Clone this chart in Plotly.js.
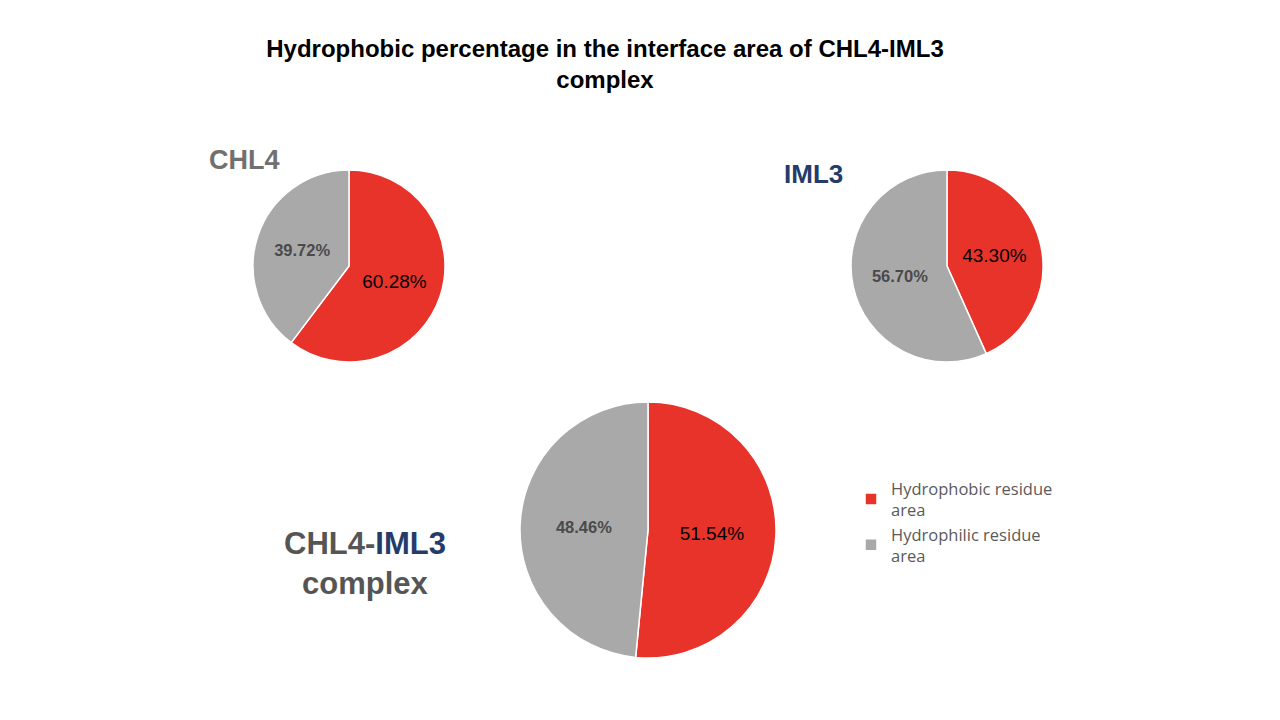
<!DOCTYPE html>
<html>
<head>
<meta charset="utf-8">
<script src="https://cdn.plot.ly/plotly-3.0.1.min.js"></script>
<style>
  html, body { margin: 0; padding: 0; background: #ffffff; }
  #chart { width: 1280px; height: 720px; }
</style>
</head>
<body>
<div id="chart"></div>
<script>
// residue area categories
const categories = ['Hydrophobic residue<br>area', 'Hydrophilic residue<br>area'];
// percentages per structure
const chl4Values = [60.28, 39.72];
const iml3Values = [43.30, 56.70];
const complexValues = [51.54, 48.46];

const sliceColors = ['#E8332A', '#AAA9AA'];
const labelColors = ['#000000', '#4a4a4a'];

function pieTrace(values, domX, domY) {
    return {
        type: 'pie',
        labels: categories,
        values: values,
        sort: false,
        direction: 'clockwise',
        rotation: 0,
        domain: { x: domX, y: domY },
        marker: { colors: sliceColors, line: { color: '#ffffff', width: 1.5 } },
        // red slice plain, grey slice bold
        texttemplate: ['%{value:.2f}%', '<b>%{value:.2f}%</b>'],
        textposition: 'inside',
        insidetextorientation: 'horizontal',
        textfont: {
            family: 'Liberation Sans, Arial, sans-serif',
            color: labelColors,
            size: [19, 16.5],
        },
        hoverinfo: 'label+percent',
        showlegend: true,
    };
}

const data = [
    pieTrace(chl4Values, [253 / 1280, 445 / 1280], [1 - 362 / 720, 1 - 170 / 720]),
    pieTrace(iml3Values, [851 / 1280, 1043 / 1280], [1 - 362 / 720, 1 - 170 / 720]),
    pieTrace(complexValues, [520 / 1280, 776 / 1280], [1 - 658 / 720, 1 - 402 / 720]),
];

const layout = {
    width: 1280,
    height: 720,
    margin: { l: 0, r: 0, t: 0, b: 0 },
    paper_bgcolor: '#ffffff',
    font: { family: 'Liberation Sans, Arial, sans-serif' },
    title: {
        text: '<b>Hydrophobic percentage in the interface area of CHL4-IML3<br>complex</b>',
        x: 605 / 1280,
        xanchor: 'center',
        y: 1 - 57 / 720,
        yanchor: 'top',
        font: { size: 24, color: '#000000', family: 'Liberation Sans, Arial, sans-serif' },
    },
    legend: {
        x: 851 / 1280,
        y: 1 - 471 / 720,
        xanchor: 'left',
        yanchor: 'top',
        font: { size: 16.5, color: '#5a5a5a', family: 'Open Sans, Liberation Sans, sans-serif' },
        itemwidth: 30,
        tracegroupgap: 8,
        bgcolor: 'rgba(0,0,0,0)',
    },
    annotations: [{
        text: '<b>CHL4</b>',
        x: 207 / 1280, y: 1 - 160 / 720,
        xref: 'paper', yref: 'paper',
        xanchor: 'left', yanchor: 'middle',
        showarrow: false,
        font: { size: 27, color: '#707070' },
    }, {
        text: '<b>IML3</b>',
        x: 782 / 1280, y: 1 - 174 / 720,
        xref: 'paper', yref: 'paper',
        xanchor: 'left', yanchor: 'middle',
        showarrow: false,
        font: { size: 26, color: '#253C6B' },
    }, {
        text: '<b>CHL4-<span style="color:#253C6B">IML3</span><br>complex</b>',
        x: 365 / 1280, y: 1 - 563 / 720,
        xref: 'paper', yref: 'paper',
        xanchor: 'center', yanchor: 'middle',
        align: 'center',
        showarrow: false,
        font: { size: 31, color: '#555555' },
    }],
};

Plotly.newPlot('chart', data, layout, { staticPlot: true, displayModeBar: false });
</script>
</body>
</html>
